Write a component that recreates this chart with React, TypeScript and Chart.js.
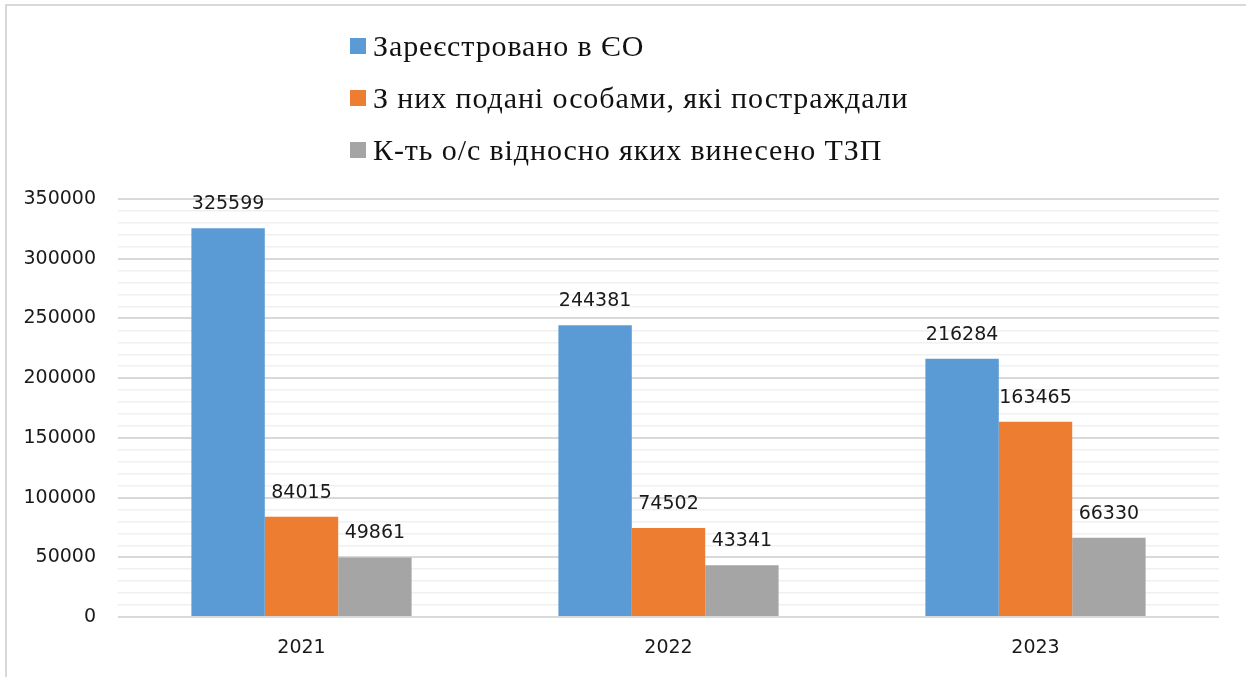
import React, { useEffect, useRef } from "react";
import { Chart, registerables } from "chart.js";

Chart.register(...registerables);

const categories = ["2021", "2022", "2023"];
const seriesLabels = [
  "Зареєстровано в ЄО",
  "З них подані особами, які постраждали",
  "К-ть о/с відносно яких винесено ТЗП",
];
const registered = [325599, 244381, 216284];
const byVictims = [84015, 74502, 163465];
const tzp = [49861, 43341, 66330];
const seriesColors = ["#5B9BD5", "#ED7D31", "#A5A5A5"];
const yMax = 350000;
const yStep = 10000;
const yLabelStep = 50000;

const TICK_FONT = { family: "'DejaVu Sans', sans-serif", size: 19 };

const valueLabels = {
  id: "valueLabels",
  afterDatasetsDraw(chart: any) {
    const ctx = chart.ctx;
    ctx.save();
    ctx.font = `19px 'DejaVu Sans', sans-serif`;
    ctx.fillStyle = "#1a1a1a";
    ctx.textAlign = "center";
    ctx.textBaseline = "middle";
    chart.data.datasets.forEach((ds: any, i: number) => {
      const meta = chart.getDatasetMeta(i);
      meta.data.forEach((el: any, j: number) => {
        ctx.fillText(String(ds.data[j]), el.x, el.y - 24);
      });
    });
    ctx.restore();
  },
};

export default function App() {
  const canvasRef = useRef<HTMLCanvasElement | null>(null);

  useEffect(() => {
    document.body.style.margin = "0";
    const chart = new Chart(canvasRef.current as HTMLCanvasElement, {
      type: "bar",
      data: {
        labels: categories,
        datasets: [registered, byVictims, tzp].map((d, i) => ({
          label: seriesLabels[i],
          data: d,
          backgroundColor: seriesColors[i],
          borderWidth: 0,
          categoryPercentage: 0.6,
          barPercentage: 1.0,
        })),
      },
      options: {
        responsive: false,
        animation: false,
        layout: { padding: { left: 0, right: 27, top: 199, bottom: 0 } },
        plugins: {
          legend: { display: false },
          tooltip: { enabled: false },
        },
        scales: {
          x: {
            grid: { display: false, drawTicks: false },
            border: { display: false },
            ticks: { font: TICK_FONT, color: "#1a1a1a", padding: 20 },
            afterFit: (s: any) => {
              s.height = 60;
            },
          },
          y: {
            min: 0,
            max: yMax,
            grid: {
              drawTicks: false,
              color: (c: any) =>
                c.tick && c.tick.value % yLabelStep === 0 ? "#d9d9d9" : "#f0f0f0",
              lineWidth: (c: any) =>
                c.tick && c.tick.value % yLabelStep === 0 ? 2 : 1.5,
            },
            border: { display: false },
            ticks: {
              stepSize: yStep,
              autoSkip: false,
              font: TICK_FONT,
              color: "#1a1a1a",
              padding: 22,
              callback: (v: any) => (Number(v) % yLabelStep === 0 ? String(v) : ""),
            },
            afterFit: (s: any) => {
              s.width = 118;
            },
          },
        },
      },
      plugins: [valueLabels],
    });
    return () => chart.destroy();
  }, []);

  return (
    <div
      style={{
        position: "relative",
        width: 1246,
        height: 677,
        overflow: "hidden",
        background: "#fff",
      }}
    >
      <div
        style={{
          position: "absolute",
          left: 5,
          top: 4,
          width: 1300,
          height: 760,
          border: "2px solid #d9d9d9",
          boxSizing: "border-box",
        }}
      />
      <canvas
        ref={canvasRef}
        width={1246}
        height={677}
        style={{ position: "absolute", left: 0, top: 0, width: 1246, height: 677 }}
      />
      {seriesLabels.map((lab, i) => (
        <div
          key={lab}
          style={{
            position: "absolute",
            left: 350,
            top: 46 + i * 52 - 26,
            height: 52,
            display: "flex",
            alignItems: "center",
            whiteSpace: "nowrap",
            fontFamily: "'Liberation Serif', serif",
            fontSize: 30,
            letterSpacing: 0.9,
            color: "#111",
          }}
        >
          <span
            style={{
              display: "inline-block",
              width: 16,
              height: 16,
              background: seriesColors[i],
              marginRight: 7,
            }}
          />
          <span>{lab}</span>
        </div>
      ))}
    </div>
  );
}
